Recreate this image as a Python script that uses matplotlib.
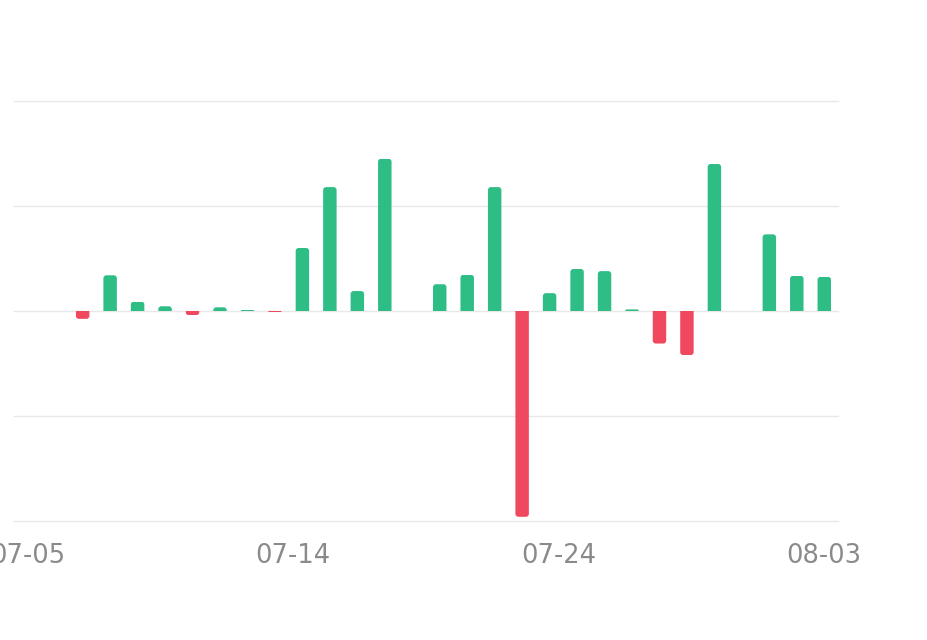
import matplotlib
matplotlib.use("Agg")
import matplotlib.pyplot as plt
from matplotlib.patches import FancyBboxPatch, Rectangle
import numpy as np

# daily change, 07-05 .. 08-03 (no data shown for the first two days)
dates = ["07-05", "07-06", "07-07", "07-08", "07-09", "07-10", "07-11", "07-12",
         "07-13", "07-14", "07-15", "07-16", "07-17", "07-18", "07-19", "07-20",
         "07-21", "07-22", "07-23", "07-24", "07-25", "07-26", "07-27", "07-28",
         "07-29", "07-30", "07-31", "08-01", "08-02", "08-03"]
values = [0, 0, -0.75, 3.4, 0.9, 0.45, -0.4, 0.35, 0.1, -0.1,
          6.0, 11.8, 1.9, 14.5, 0, 2.55, 3.45, 11.8, -19.6, 1.7,
          4.0, 3.8, 0.15, -3.1, -4.2, 14.0, 0, 7.3, 3.35, 3.25]
tick_text = ["07-05", "07-14", "07-24", "08-03"]

GREEN = "#2ebd85"
RED = "#f0485e"

fig = plt.figure(figsize=(9.28, 6.4), dpi=100)
ax = fig.add_axes([14/928, 1 - 521/640, 824/928, 420/640])

ax.set_xlim(-0.5, len(dates) - 0.5)
ax.set_ylim(-20, 20)

x = np.arange(len(dates))
colors = [GREEN if v >= 0 else RED for v in values]
bars = ax.bar(x, values, width=0.49, color=colors, zorder=3)

# round the free end of every bar (about 3 px): draw a mirrored rounded box
# and clip it back to the real bar extent
px_x = 824 / 30
px_y = 420 / 40
aspect = px_x / px_y
for b, c in zip(bars, colors):
    h = b.get_height()
    if h == 0:
        continue
    b.set_visible(False)
    x0, w = b.get_x(), b.get_width()
    r = min(3 / px_x, abs(h) / aspect)
    rb = FancyBboxPatch((x0, -abs(h)), w, 2 * abs(h),
                        boxstyle=f"round,pad=0,rounding_size={r}",
                        mutation_aspect=aspect, fc=c, ec="none", zorder=3)
    ax.add_patch(rb)
    clip = Rectangle((x0 - 0.5, min(0, h)), w + 1, abs(h), transform=ax.transData)
    rb.set_clip_path(clip)

ax.set_yticks([-20, -10, 0, 10, 20])
ax.yaxis.grid(True, color="#e8e8e8", linewidth=1, zorder=0)
for gl in ax.get_ygridlines():
    gl.set_clip_on(False)
ax.tick_params(axis="y", left=False, labelleft=False)

# labels spread evenly across the category range
n = len(dates) - 1
ax.set_xticks(np.linspace(0, n, len(tick_text)))
ax.set_xticklabels(tick_text, fontsize=18.5, color="#8a8a8a", family="DejaVu Sans")
ax.tick_params(axis="x", length=0, pad=16)

for s in ax.spines.values():
    s.set_visible(False)

fig.savefig("out.png", dpi=100)
